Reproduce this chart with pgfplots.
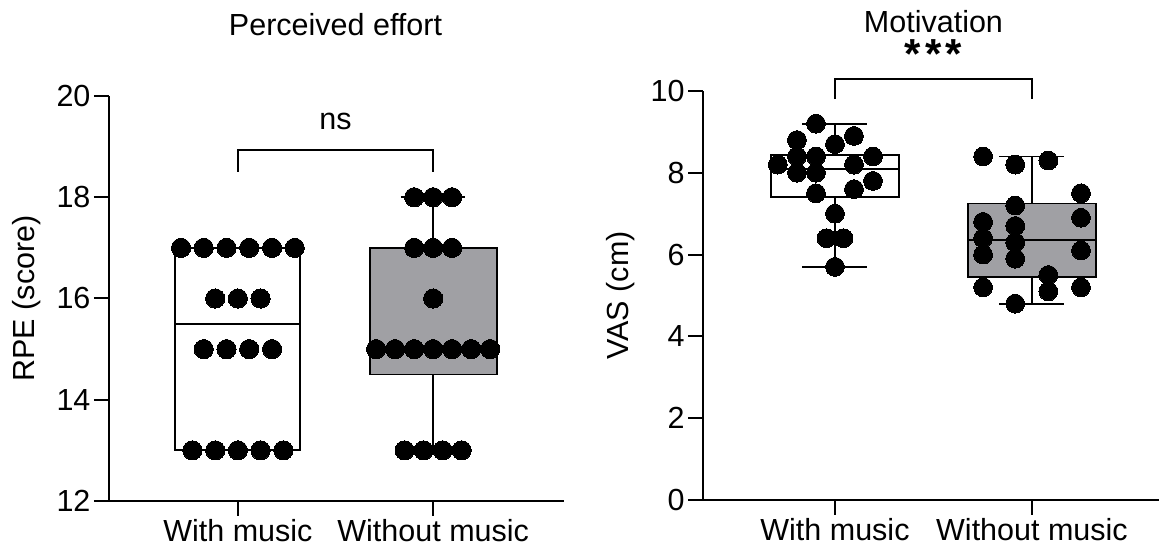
\documentclass[border=0pt]{standalone}
\usepackage{fontspec}
\setmainfont{Liberation Sans}
\usepackage{pgfplots}
\pgfplotsset{compat=1.18}
\definecolor{boxgray}{RGB}{160,160,164}
\pgfplotsset{
  myaxis/.style={
    scale only axis,
    anchor=south west,
    axis lines=left,
    axis line style={-, line width=2pt, black},
    tick style={line width=2pt, black},
    major tick length=15pt,
    tick align=outside,
    xtick={0,1},
    xticklabels={With music, Without music},
    font=\fontsize{30.5}{34}\selectfont,
    /pgf/number format/assume math mode=true,
    clip=false,
    ylabel style={at={(axis description cs:-0.18,0.5)}, anchor=center},
  },
  mydots/.style={only marks, mark=*, mark size=9.6pt, mark options={draw=black, fill=black, line width=0pt}},
  myline/.style={black, line width=1.8pt, no marks, sharp plot},
}
\begin{document}
\begin{tikzpicture}
\useasboundingbox (0,0) rectangle (1159pt,553pt);
% ---------------- Left panel ----------------
\begin{axis}[myaxis,
  at={(109pt,52pt)}, width=455pt, height=405pt,
  xmin=-0.66, xmax=1.67, ymin=12, ymax=20,
  ytick={12,14,16,18,20},
  ylabel={RPE (score)}]
% with music box (13 / 15.5 / 17)
\addplot[myline, fill=white] coordinates {(-0.32,13) (0.32,13) (0.32,17) (-0.32,17)} -- cycle;
\addplot[myline] coordinates {(-0.32,15.5) (0.32,15.5)};
% without music box (13 / 14.5 / 15 / 17 / 18)
\addplot[myline] coordinates {(1,13) (1,18)};
\addplot[myline] coordinates {(0.835,18) (1.165,18)};
\addplot[myline] coordinates {(0.835,13) (1.165,13)};
\addplot[myline, fill=boxgray] coordinates {(0.675,14.5) (1.325,14.5) (1.325,17) (0.675,17)} -- cycle;
\addplot[myline] coordinates {(0.675,15) (1.325,15)};
\addplot[mydots] coordinates {
  (-0.291,17) (-0.175,17) (-0.058,17) (0.058,17) (0.175,17) (0.291,17)
  (-0.116,16) (0,16) (0.116,16)
  (-0.175,15) (-0.058,15) (0.058,15) (0.175,15)
  (-0.233,13) (-0.116,13) (0,13) (0.116,13) (0.233,13)
};
\addplot[mydots] coordinates {
  (0.903,18) (1,18) (1.097,18)
  (0.903,17) (1,17) (1.097,17)
  (1,16)
  (0.708,15) (0.805,15) (0.903,15) (1,15) (1.097,15) (1.195,15) (1.292,15)
  (0.854,13) (0.951,13) (1.049,13) (1.146,13)
};
\addplot[myline] coordinates {(0,18.5) (0,18.94) (1,18.94) (1,18.5)};
\node at (axis cs:0.5,19.49) {ns};
\node at (axis cs:0.5,21.41) {Perceived effort};
\end{axis}
% ---------------- Right panel ----------------
\begin{axis}[myaxis,
  at={(703pt,53pt)}, width=456pt, height=409pt,
  xmin=-0.67, xmax=1.645, ymin=0, ymax=10,
  ytick={0,2,4,6,8,10},
  ylabel={VAS (cm)}]
% with music (5.7 / 7.4 / 8.1 / 8.44 / 9.2)
\addplot[myline] coordinates {(0,5.7) (0,9.2)};
\addplot[myline] coordinates {(-0.165,9.2) (0.165,9.2)};
\addplot[myline] coordinates {(-0.165,5.7) (0.165,5.7)};
\addplot[myline, fill=white] coordinates {(-0.325,7.4) (0.325,7.4) (0.325,8.44) (-0.325,8.44)} -- cycle;
\addplot[myline] coordinates {(-0.325,8.1) (0.325,8.1)};
% without music (4.8 / 5.45 / 6.35 / 7.25 / 8.4)
\addplot[myline] coordinates {(1,4.8) (1,8.4)};
\addplot[myline] coordinates {(0.835,8.4) (1.165,8.4)};
\addplot[myline] coordinates {(0.835,4.8) (1.165,4.8)};
\addplot[myline, fill=boxgray] coordinates {(0.675,5.45) (1.325,5.45) (1.325,7.25) (0.675,7.25)} -- cycle;
\addplot[myline] coordinates {(0.675,6.35) (1.325,6.35)};
\addplot[mydots, mark size=9.4pt] coordinates {
  (-0.0965,9.2) (-0.193,8.8) (0.0965,8.9) (0,8.7)
  (-0.193,8.4) (-0.0965,8.4) (0.193,8.4)
  (-0.29,8.2) (0.0965,8.2)
  (-0.193,8.0) (-0.0965,8.0)
  (0.193,7.8) (0.0965,7.6) (-0.0965,7.5)
  (0,7.0) (-0.043,6.4) (0.043,6.4) (0,5.7)
};
\addplot[mydots, mark size=9.4pt] coordinates {
  (0.752,8.4) (0.915,8.2) (1.083,8.3) (1.249,7.5)
  (0.915,7.2) (0.752,6.8) (0.915,6.7) (1.249,6.9)
  (0.752,6.4) (0.915,6.3) (0.752,6.0) (1.249,6.1)
  (0.915,5.9) (1.083,5.5) (0.752,5.2) (1.083,5.1)
  (1.249,5.2) (0.915,4.8)
};
\addplot[myline] coordinates {(0,9.8) (0,10.29) (1,10.29) (1,9.8)};
\node[font=\fontsize{42}{42}\bfseries] at (axis cs:0.5,10.9) {*\kern4pt*\kern4pt*};
\node at (axis cs:0.5,11.69) {Motivation};
\end{axis}
\end{tikzpicture}
\end{document}
